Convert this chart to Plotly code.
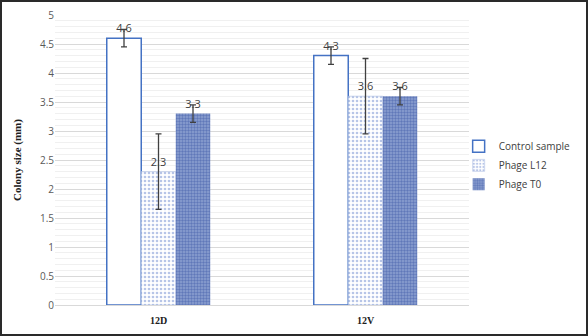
import plotly.graph_objects as go

categories = ["12D", "12V"]
control = [4.6, 4.3]
control_err = [0.15, 0.15]
l12 = [2.3, 3.6]
l12_err = [0.65, 0.65]
t0 = [3.3, 3.6]
t0_err = [0.15, 0.15]
labels = ["Control sample", "Phage L12", "Phage T0"]

W, H = 588, 336
ml, mr, mt, mb = 55, 119, 15, 31

fig = go.Figure()
err_style = dict(type="data", color="#404040", thickness=1.3, width=3)
txt_font = dict(family="Open Sans, sans-serif", size=11, color="#404040")

fig.add_trace(go.Bar(
    name=labels[0], x=categories, y=control,
    error_y=dict(array=control_err, **err_style),
    marker=dict(color="white", line=dict(color="#4472c4", width=1.5)),
    text=[f"{v:.1f}" for v in control], textposition="outside",
    textfont=txt_font, cliponaxis=False))
fig.add_trace(go.Bar(
    name=labels[1], x=categories, y=l12,
    error_y=dict(array=l12_err, **err_style),
    marker=dict(color="white", line=dict(color="#9fb2de", width=0.5),
                pattern=dict(shape=".", fgcolor="#6f8cd0", bgcolor="white",
                             size=4, solidity=0.35, fillmode="overlay")),
    text=[f"{v:.1f}" for v in l12], textposition="outside",
    textfont=txt_font, cliponaxis=False))
fig.add_trace(go.Bar(
    name=labels[2], x=categories, y=t0,
    error_y=dict(array=t0_err, **err_style),
    marker=dict(color="#7188c4", line=dict(color="#7188c4", width=0),
                pattern=dict(shape=".", fgcolor="#6078b9", bgcolor="#8ea1d2",
                             size=3, solidity=0.5, fillmode="replace")),
    text=[f"{v:.1f}" for v in t0], textposition="outside",
    textfont=txt_font, cliponaxis=False))

fig.update_layout(
    width=W, height=H,
    margin=dict(l=ml, r=mr, t=mt, b=mb, autoexpand=False),
    paper_bgcolor="white", plot_bgcolor="white",
    barmode="group", bargap=0.5, bargroupgap=0,
    showlegend=True,
    legend=dict(x=0.975, y=0.597, xanchor="left", yanchor="top",
                font=dict(family="Open Sans, sans-serif", size=10, color="#404040"),
                itemwidth=30, tracegroupgap=4, bgcolor="rgba(0,0,0,0)"),
    xaxis=dict(showgrid=False, showline=True, linecolor="#d9d9d9", linewidth=1,
               tickfont=dict(family="Liberation Serif, serif", size=10, color="#202020",
                             weight="bold"),
               ticks="", ticklabelstandoff=6),
    yaxis=dict(range=[0, 5], dtick=0.5, showgrid=True, gridcolor="#d9d9d9", gridwidth=1,
               zeroline=False, showline=False, ticks="",
               tickfont=dict(family="Open Sans, sans-serif", size=10, color="#595959"),
               minor=dict(dtick=0.1, showgrid=True, gridcolor="#f0f0f0", gridwidth=1),
               title=dict(text="<b>Colony size (mm)</b>",
                          font=dict(family="Liberation Serif, serif", size=11, color="#202020"),
                          standoff=16)),
    shapes=[dict(type="rect", xref="paper", yref="paper",
                 x0=-(ml - 1) / (W - ml - mr), x1=1 + (mr - 1) / (W - ml - mr),
                 y0=-(mb - 1) / (H - mt - mb), y1=1 + (mt - 1) / (H - mt - mb),
                 line=dict(color="#2a2a2a", width=2))],
)

fig.write_html("out.html")
